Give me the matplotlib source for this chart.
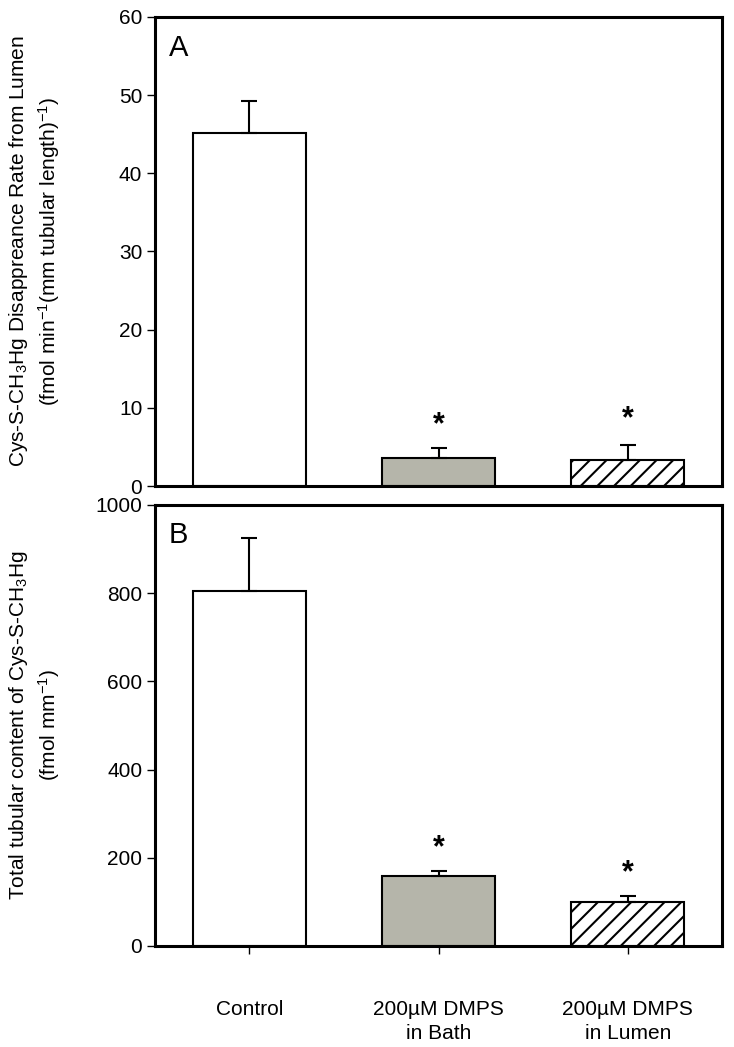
import numpy as np
import matplotlib.pyplot as plt

plt.rcParams['font.family'] = ['Liberation Sans', 'DejaVu Sans']
plt.rcParams['mathtext.fontset'] = 'custom'
plt.rcParams['mathtext.rm'] = 'Liberation Sans'
plt.rcParams['mathtext.it'] = 'Liberation Sans'
plt.rcParams['hatch.linewidth'] = 1.5

groups = ["Control", "200µM DMPS\nin Bath", "200µM DMPS\nin Lumen"]
rate_mean = [45.2, 3.6, 3.3]
rate_err = [4.1, 1.3, 2.0]
rate_star = [None, 7.8, 8.5]
content_mean = [806, 158, 99]
content_err = [120, 11, 15]
content_star = [None, 222, 166]

fills = ["white", "#b5b5aa", "white"]
hatches = ["", "", "//"]

fig = plt.figure(figsize=(7.34, 10.47), dpi=100)
axA = fig.add_axes([0.211, 0.5358, 0.773, 0.448])
axB = fig.add_axes([0.211, 0.0965, 0.773, 0.4212])

x = np.arange(len(groups))


def panel(ax, means, errs, stars, ymax, step, letter, ylabel, pad):
    for i in range(len(groups)):
        ax.bar(x[i], means[i], width=0.6, color=fills[i], edgecolor="black",
               linewidth=1.5, hatch=hatches[i], zorder=2)
    ax.errorbar(x, means, yerr=[np.zeros(len(errs)), errs], fmt="none",
                ecolor="black", elinewidth=1.5, capsize=6, capthick=1.5, zorder=3)
    for i, s in enumerate(stars):
        if s is not None:
            ax.text(x[i], s, "*", ha="center", va="center", fontsize=22, fontweight="bold")
    ax.set_xlim(-0.5, 2.5)
    ax.set_ylim(0, ymax)
    ax.set_yticks(np.arange(0, ymax + 1, step))
    for sp in ax.spines.values():
        sp.set_linewidth(2.2)
    ax.tick_params(axis="y", direction="out", length=6, width=1, labelsize=15, pad=3)
    ax.text(0.024, 0.933, letter, transform=ax.transAxes, fontsize=21, va="center")
    ax.set_ylabel(ylabel, fontsize=15, linespacing=1.3, labelpad=pad)


panel(axA, rate_mean, rate_err, rate_star, 60, 10, "A",
      "Cys-S-CH$_3$Hg Disappreance Rate from Lumen\n(fmol min$^{-1}$(mm tubular length)$^{-1}$)", 41)
panel(axB, content_mean, content_err, content_star, 1000, 200, "B",
      "Total tubular content of Cys-S-CH$_3$Hg\n(fmol mm$^{-1}$)", 24)

axA.set_xticks([])
axB.set_xticks(x)
axB.set_xticklabels(groups, fontsize=15, linespacing=1.3)
axB.tick_params(axis="x", direction="out", length=6, width=1, pad=33)

fig.savefig("out.png", dpi=100)
